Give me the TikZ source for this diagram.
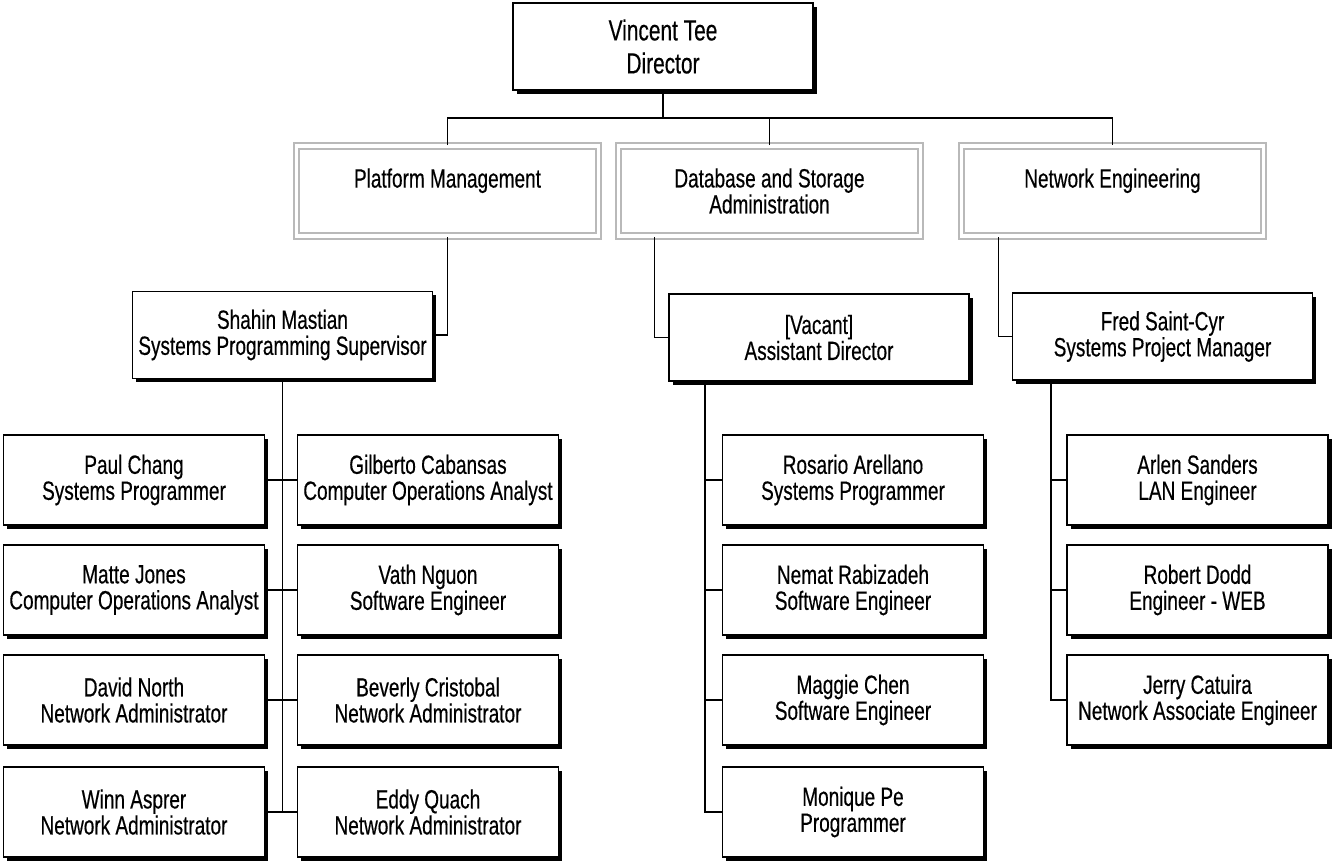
\documentclass[tikz,border=0pt]{standalone}
\usepackage{fontspec}
\setmainfont{Liberation Sans}[FakeStretch=0.72, FakeBold=0.4]
\usepackage{tikz}
\usetikzlibrary{shapes,positioning,calc,shadows}

\begin{document}
\begin{tikzpicture}[x=0.5pt, y=-0.5pt,
    person/.style={draw, line width=0.9pt, fill=white, align=center, inner sep=1pt,
        font=\fontsize{13.2}{13}\selectfont,
        drop shadow={shadow xshift=1.8pt, shadow yshift=-1.8pt, opacity=1, fill=black}},
    boss/.style={person, minimum width=150pt, minimum height=43.5pt},
    staff/.style={person, minimum width=130.5pt, minimum height=45pt},
    dept/.style={draw=gray!55, line width=1pt, double=white, double distance=1.8pt,
        align=center, minimum width=151pt, minimum height=45pt,
        font=\fontsize{13.2}{13}\selectfont},
    link/.style={line width=0.9pt}
]
    \useasboundingbox (0,0) rectangle (1333,864);

    \node[person, minimum width=150pt, minimum height=43.5pt,
          font=\fontsize{14.5}{16.5}\selectfont] (dir) at (663,46.5) {Vincent Tee\\Director};

    \node[dept] (plat) at (447.5,191) {Platform Management\\\mbox{}};
    \node[dept] (db) at (769.5,191) {Database and Storage\\Administration};
    \node[dept] (net) at (1112.5,191) {Network Engineering\\\mbox{}};

    \node[boss] (shahin) at (282.5,335) {Shahin Mastian\\Systems Programming Supervisor};
    \node[boss] (vacant) at (819,337.5) {[Vacant]\\Assistant Director};
    \node[boss] (fred) at (1162.5,336.5) {Fred Saint-Cyr\\Systems Project Manager};

    \node[staff] (paul) at (134,480) {Paul Chang\\Systems Programmer};
    \node[staff] (matte) at (134,590) {Matte Jones\\Computer Operations Analyst};
    \node[staff] (david) at (134,700) {David North\\Network Administrator};
    \node[staff] (winn) at (134,812) {Winn Asprer\\Network Administrator};

    \node[staff] (gilberto) at (428,480) {Gilberto Cabansas\\Computer Operations Analyst};
    \node[staff] (vath) at (428,590) {Vath Nguon\\Software Engineer};
    \node[staff] (beverly) at (428,700) {Beverly Cristobal\\Network Administrator};
    \node[staff] (eddy) at (428,812) {Eddy Quach\\Network Administrator};

    \node[staff] (rosario) at (853,480) {Rosario Arellano\\Systems Programmer};
    \node[staff] (nemat) at (853,590) {Nemat Rabizadeh\\Software Engineer};
    \node[staff] (maggie) at (853,700) {Maggie Chen\\Software Engineer};
    \node[staff] (monique) at (853,812) {Monique Pe\\Programmer};

    \node[staff] (arlen) at (1197.5,480) {Arlen Sanders\\LAN Engineer};
    \node[staff] (robert) at (1197.5,590) {Robert Dodd\\Engineer - WEB};
    \node[staff] (jerry) at (1197.5,700) {Jerry Catuira\\Network Associate Engineer};

    \coordinate (bus) at (665,118);
    \draw[link] (dir.south) -- (dir.south |- bus);
    \draw[link] (plat.north) |- (bus) -| (net.north);
    \draw[link] (db.north) -- (db.north |- bus);

    \draw[link] (plat.south) |- (shahin.east);
    \draw[link] ($(db.south west)+(37,0)$) |- (vacant.west);
    \draw[link] ($(net.south west)+(38,0)$) |- (fred.west);

    \draw[link] (shahin.south) -- (shahin.south |- winn.east);
    \foreach \l/\r in {paul/gilberto, matte/vath, david/beverly, winn/eddy}
        \draw[link] (\l.east) -- (\r.west);

    \draw[link] ($(vacant.south west)+(37,0)$) coordinate (vtrunk) |- (monique.west);
    \foreach \c in {rosario, nemat, maggie}
        \draw[link] (\c.west) -- (\c.west -| vtrunk);

    \draw[link] ($(fred.south west)+(39,0)$) coordinate (ftrunk) |- (jerry.west);
    \foreach \c in {arlen, robert}
        \draw[link] (\c.west) -- (\c.west -| ftrunk);
\end{tikzpicture}
\end{document}
